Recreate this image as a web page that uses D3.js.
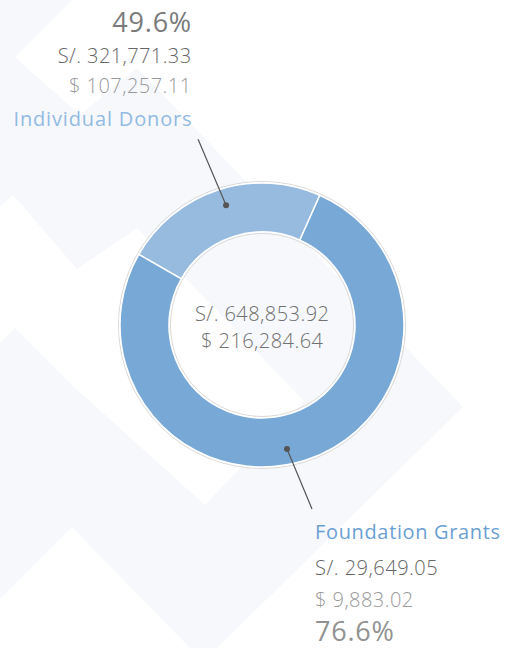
<!DOCTYPE html>
<html>
<head>
<meta charset="utf-8">
<script src="https://cdn.jsdelivr.net/npm/d3@7"></script>
<style>
  html, body { margin: 0; padding: 0; background: #ffffff; }
  svg { display: block; }
  text { font-family: "Open Sans", Lato, sans-serif; }
</style>
</head>
<body>
<div id="chart"></div>
<script>
// ---- data ----
const categories = ["Individual Donors", "Foundation Grants"];
const shares = [23.4, 76.6];                       // slice sizes read from the ring
const percentLabels = ["49.6%", "76.6%"];
const solesLabels = ["S/. 321,771.33", "S/. 29,649.05"];
const dollarLabels = ["$ 107,257.11", "$ 9,883.02"];
const totalLabels = ["S/. 648,853.92", "$ 216,284.64"];
const sliceColors = ["#97bbdf", "#78a8d6"];
const labelColors = ["#93bbe3", "#6b9fd3"];

(function () {
const W = 517, H = 648;
const cx = 262, cy = 325, rOuter = 142, rInner = 93;

const svg = d3.select("#chart").append("svg")
  .attr("width", W).attr("height", H);

// ---- decorative background (faint chevrons) ----
const bg = svg.append("g");
const light = "#f6f8fc";
bg.append("rect").attr("width", W).attr("height", H).attr("fill", "#ffffff");
const lightShapes = [
  [[0,0],[72,0],[15,57],[80,115],[137,68],[463,407],[217,648],[0,648]]
];
const whiteShapes = [
  [[0,207],[13,195],[77,269],[137,228],[304,401],[205,505],[73,386],[15,328],[0,343]],
  [[0,599],[72,527],[190,648],[0,648]]
];
const line = d3.line();
lightShapes.forEach(p => bg.append("path").attr("d", line(p) + "Z").attr("fill", light));
whiteShapes.forEach(p => bg.append("path").attr("d", line(p) + "Z").attr("fill", "#ffffff"));

// ---- donut ----
const g = svg.append("g").attr("transform", `translate(${cx},${cy})`);
const start = -60.2 * Math.PI / 180;
const pie = d3.pie().sort(null).value(d => d).startAngle(start).endAngle(start + 2 * Math.PI);
const arcs = pie(shares);
const arc = d3.arc().innerRadius(rInner).outerRadius(rOuter);

g.append("circle").attr("r", rOuter + 1.5).attr("fill", "none").attr("stroke", "#d9d9d9").attr("stroke-width", 1);
g.append("circle").attr("r", rInner - 1.5).attr("fill", "none").attr("stroke", "#d9d9d9").attr("stroke-width", 1);

g.selectAll("path.slice").data(arcs).join("path")
  .attr("class", "slice")
  .attr("d", arc)
  .attr("fill", (d, i) => sliceColors[i])
  .attr("stroke", "#ffffff")
  .attr("stroke-width", 1.5);

// center totals
g.append("text").attr("text-anchor", "middle").attr("x", 0.2).attr("y", -4)
  .attr("font-size", 20).attr("font-weight", 300).attr("letter-spacing", 0.45).attr("fill", "#707070")
  .text(totalLabels[0]);
g.append("text").attr("text-anchor", "middle").attr("x", 0.2).attr("y", 23)
  .attr("font-size", 20).attr("font-weight", 300).attr("letter-spacing", 0.45).attr("fill", "#707070")
  .text(totalLabels[1]);

// ---- leader lines ----
const anchors = [
  { ang: -16.7, r: 125, dx: -28, dy: -66 },
  { ang: 168.6, r: 126.5, dx: 25, dy: 60 }
];
anchors.forEach((a) => {
  const t = a.ang * Math.PI / 180;
  const x = a.r * Math.sin(t), y = -a.r * Math.cos(t);
  g.append("line").attr("x1", x).attr("y1", y).attr("x2", x + a.dx).attr("y2", y + a.dy)
    .attr("stroke", "#555").attr("stroke-width", 1.2);
  g.append("circle").attr("cx", x).attr("cy", y).attr("r", 3).attr("fill", "#555");
});

// top block (Individual Donors), right aligned
const topBlock = svg.append("g").attr("text-anchor", "end");
topBlock.append("text").attr("x", 192).attr("y", 32).attr("font-size", 27).attr("letter-spacing", 0.8).attr("fill", "#7a7a7a").text(percentLabels[0]);
topBlock.append("text").attr("x", 191.5).attr("y", 63).attr("font-size", 20).attr("font-weight", 350).attr("letter-spacing", 0.4).attr("fill", "#666666").text(solesLabels[0]);
topBlock.append("text").attr("x", 191.5).attr("y", 93).attr("font-size", 20).attr("font-weight", 300).attr("letter-spacing", 0.45).attr("fill", "#9a9a9a").text(dollarLabels[0]);
topBlock.append("text").attr("x", 192.5).attr("y", 126).attr("font-size", 20).attr("letter-spacing", 0.85).attr("fill", labelColors[0]).text(categories[0]);

// bottom block (Foundation Grants), left aligned
const botBlock = svg.append("g").attr("text-anchor", "start");
botBlock.append("text").attr("x", 315).attr("y", 539).attr("font-size", 20).attr("letter-spacing", 0.65).attr("fill", labelColors[1]).text(categories[1]);
botBlock.append("text").attr("x", 315).attr("y", 575).attr("font-size", 20).attr("font-weight", 350).attr("letter-spacing", 0.5).attr("fill", "#666666").text(solesLabels[1]);
botBlock.append("text").attr("x", 315).attr("y", 607).attr("font-size", 20).attr("font-weight", 300).attr("letter-spacing", 0.45).attr("fill", "#9a9a9a").text(dollarLabels[1]);
botBlock.append("text").attr("x", 315).attr("y", 640.5).attr("font-size", 27).attr("letter-spacing", 0.8).attr("fill", "#929292").text(percentLabels[1]);
})();
</script>
</body>
</html>
